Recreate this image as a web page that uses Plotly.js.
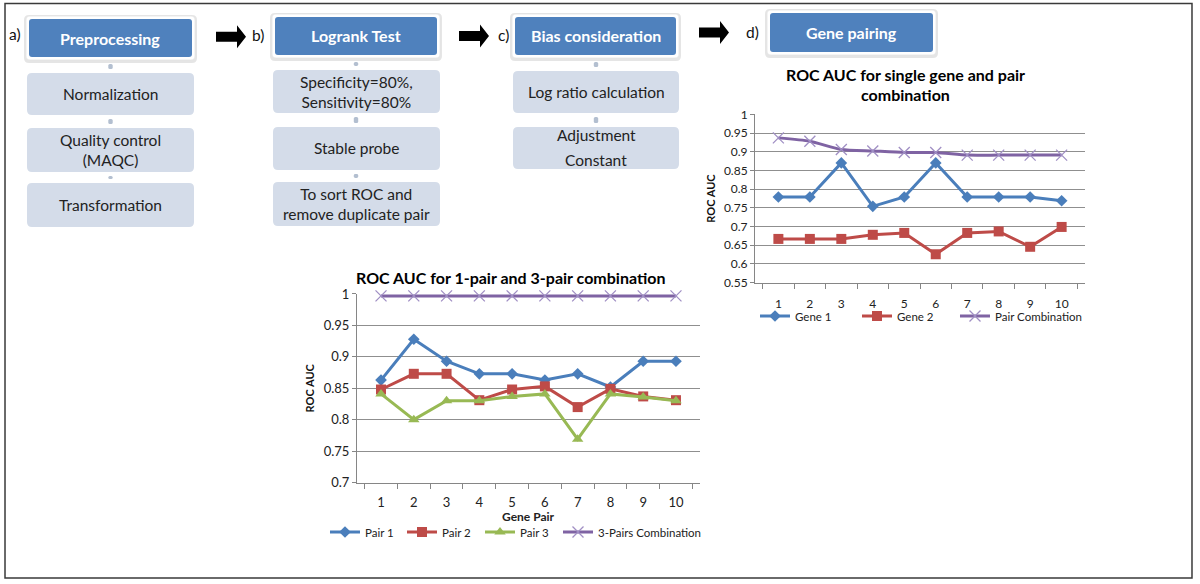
<!DOCTYPE html>
<html><head><meta charset="utf-8">
<script src="https://cdn.plot.ly/plotly-3.0.1.min.js"></script>
<style>html,body{margin:0;padding:0;background:#fff}</style>
</head><body><div id="chart" style="width:1200px;height:584px"></div>
<script>
// ---------- DATA ----------
const categories = ['1','2','3','4','5','6','7','8','9','10'];
// d) single gene vs pair combination
const gene1 = [0.779,0.779,0.870,0.754,0.779,0.870,0.779,0.779,0.779,0.769];
const gene2 = [0.667,0.667,0.667,0.678,0.683,0.626,0.683,0.687,0.646,0.699];
const pairCombination = [0.937,0.928,0.906,0.902,0.898,0.898,0.891,0.891,0.891,0.891];
// 1-pair vs 3-pair combination
const pair1 = [0.863,0.928,0.893,0.873,0.873,0.863,0.873,0.852,0.893,0.893];
const pair2 = [0.848,0.873,0.873,0.831,0.848,0.853,0.820,0.849,0.837,0.831];
const pair3 = [0.841,0.800,0.830,0.830,0.837,0.841,0.769,0.841,0.836,0.830];
const threePairsCombination = [0.997,0.997,0.997,0.997,0.997,0.997,0.997,0.997,0.997,0.997];
// flowchart text
const stepLabels = ['a)','b)','c)','d)'];
const stepHeaders = ['Preprocessing','Logrank Test','Bias consideration','Gene pairing'];
const preprocessingSteps = ['Normalization','Quality control<br>(MAQC)','Transformation'];
const logrankSteps = ['Specificity=80%,<br>Sensitivity=80%','Stable probe','To sort ROC and<br>remove duplicate pair'];
const biasSteps = ['Log ratio calculation',['Adjustment','Constant']];

// ---------- helpers ----------
const W = 1200, H = 584;
const X = p => +(p / W).toFixed(5);
const Y = p => +(1 - p / H).toFixed(5);
function rr(x0,y0,x1,y1,r){
  return `M${X(x0+r)},${Y(y0)} L${X(x1-r)},${Y(y0)} Q${X(x1)},${Y(y0)} ${X(x1)},${Y(y0+r)} `+
    `L${X(x1)},${Y(y1-r)} Q${X(x1)},${Y(y1)} ${X(x1-r)},${Y(y1)} L${X(x0+r)},${Y(y1)} `+
    `Q${X(x0)},${Y(y1)} ${X(x0)},${Y(y1-r)} L${X(x0)},${Y(y0+r)} Q${X(x0)},${Y(y0)} ${X(x0+r)},${Y(y0)} Z`;
}
const FONT = 'Lato, "Open Sans", sans-serif';
const shapes = [], annotations = [];
function pathShape(path, fill, line){ shapes.push({type:'path', xref:'paper', yref:'paper', path, fillcolor:fill, line: line || {width:0}}); }
function text(t, x, y, size, color, bold){
  annotations.push({text:t, xref:'paper', yref:'paper', x:X(x), y:Y(y), xanchor:'center', yanchor:'middle',
    showarrow:false, font:{family:FONT, size, color, weight: bold ? 'bold' : 'normal'}});
}
function header(label, box){
  const [x0,y0,x1,y1] = box;
  pathShape(rr(x0-5,y0-4,x1+5,y1+6,5), 'rgba(0,0,0,0.10)');
  pathShape(rr(x0-3,y0-3,x1+3,y1+3,4), '#ffffff', {color:'#e4e4e4', width:0.8});
  pathShape(rr(x0,y0,x1,y1,3), '#4f81bd');
  text(label, (x0+x1)/2, (y0+y1)/2, 16, '#ffffff', true);
}
function subBoxes(items, xs, ys, cx, headerBottom, spacedLines){
  let prev = headerBottom;
  items.forEach((t,i)=>{
    const [y0,y1] = ys[i];
    pathShape(rr(cx-2.2, prev+4, cx+2.2, y0-4, 1.5), '#b3bfd0');
    pathShape(rr(xs[0], y0, xs[1], y1, 5), '#d4dce9');
    if (Array.isArray(t)) {
      text(t[0], (xs[0]+xs[1])/2, spacedLines[0], 15.5, '#222');
      text(t[1], (xs[0]+xs[1])/2, spacedLines[1], 15.5, '#222');
    } else {
      text(t, (xs[0]+xs[1])/2, (y0+y1)/2, 15.5, '#222');
    }
    prev = y1;
  });
}
function arrow(x, cy){
  const L = 30, bh = 5, hh = 11.5, hl = 9;
  const p = `M${X(x)},${Y(cy-bh)} L${X(x+L-hl)},${Y(cy-bh)} L${X(x+L-hl)},${Y(cy-hh)} L${X(x+L)},${Y(cy)} `+
    `L${X(x+L-hl)},${Y(cy+hh)} L${X(x+L-hl)},${Y(cy+bh)} L${X(x)},${Y(cy+bh)} Z`;
  pathShape(p, '#000000');
}

// ---------- flowchart ----------
shapes.push({type:'rect', xref:'paper', yref:'paper', x0:X(5), y0:Y(3.5), x1:X(1192), y1:Y(578), line:{color:'#3a3a3a', width:1.5}, fillcolor:'rgba(0,0,0,0)'});
const headerBoxes = [[29,19,192,57],[275,17,437,55],[515,17,676,55],[770,13,933,52]];
stepHeaders.forEach((h,i)=>header(h, headerBoxes[i]));
const labelPos = [[15,34],[258,35],[503,35],[752,32]];
stepLabels.forEach((l,i)=>text(l, labelPos[i][0], labelPos[i][1], 15.5, '#111'));
subBoxes(preprocessingSteps, [27,194], [[73,115],[128,172],[183,227]], 110.5, 57+3);
subBoxes(logrankSteps, [273,440], [[70,113],[127,170],[182,226]], 356, 55+3);
subBoxes(biasSteps, [513,679], [[71,113],[127,169]], 596, 55+3, [135,160]);
arrow(216, 36.7); arrow(459, 36); arrow(699, 32.5);

// chart titles
text('ROC AUC for single gene and pair', 905, 75, 16, '#000', true);
text('combination', 905, 95, 16, '#000', true);
text('ROC AUC for 1-pair and 3-pair combination', 510, 277, 16, '#000', true);
text('Gene Pair', 529, 517, 12, '#222', true);

// ---------- traces ----------
const BLUE='#4a7ebb', RED='#be4b48', GREEN='#98b954', PURPLE='#7f63a3';
function series(name, y, color, symbol, size, xa, ya, leg, extra){
  return Object.assign({type:'scatter', mode:'lines+markers', name, x:categories, y,
    xaxis:xa, yaxis:ya, legend:leg, cliponaxis:false,
    line:{color, width:3}, marker:{symbol, size, color}}, extra||{});
}
const comboMarker = {symbol:'x-thin', size:11, color:'#a08fc4', line:{color:'#a08fc4', width:1.3}};
const data = [
  series('Pair 1', pair1, BLUE, 'diamond', 9, 'x', 'y', 'legend'),
  series('Pair 2', pair2, RED, 'square', 10, 'x', 'y', 'legend2'),
  series('Pair 3', pair3, GREEN, 'triangle-up', 10, 'x', 'y', 'legend3'),
  series('3-Pairs Combination', threePairsCombination, PURPLE, 'x-thin', 11, 'x', 'y', 'legend4', {marker:comboMarker}),
  series('Gene 1', gene1, BLUE, 'diamond', 9, 'x2', 'y2', 'legend5'),
  series('Gene 2', gene2, RED, 'square', 10, 'x2', 'y2', 'legend6'),
  series('Pair Combination', pairCombination, PURPLE, 'x-thin', 11, 'x2', 'y2', 'legend7', {marker:comboMarker, line:{color:PURPLE, width:3, shape:'spline', smoothing:0.6}})
];

const AX = '#868686', GRID = '#8f8f8f';
function xAxis(domain, anchor, fsize, standoff){
  return {domain, anchor, type:'category', tickson:'boundaries', ticks:'outside', ticklen:5, tickcolor:AX,
    showline:true, linecolor:AX, linewidth:1, showgrid:false, zeroline:false, fixedrange:true,
    tickfont:{family:FONT, size:fsize, color:'#222'}, ticklabelstandoff:standoff};
}
function yAxis(domain, anchor, range, fsize){
  return {domain, anchor, range, dtick:0.05, tick0:0, ticks:'outside', ticklen:4, tickcolor:AX,
    showline:true, linecolor:AX, linewidth:1, showgrid:true, gridcolor:GRID, gridwidth:1, zeroline:false, fixedrange:true,
    tickfont:{family:FONT, size:fsize, color:'#222'},
    title:{text:'ROC AUC', font:{family:FONT, size:11, color:'#111', weight:'bold'}, standoff:6}};
}
function leg(xpx, ypx){
  return {orientation:'h', x:X(xpx-5), y:Y(ypx), xanchor:'left', yanchor:'middle', bgcolor:'rgba(0,0,0,0)',
    font:{family:FONT, size:11.5, color:'#222'}, itemwidth:30};
}
const layout = {
  width:W, height:H, margin:{l:0,r:0,t:0,b:0}, paper_bgcolor:'#fff', plot_bgcolor:'#fff',
  showlegend:true,
  xaxis: xAxis([X(357), X(700)], 'y', 13, 8),
  yaxis: yAxis([Y(482.5), Y(294)], 'x', [0.7, 1], 13),
  xaxis2: xAxis([X(755), X(1085)], 'y2', 12, 10),
  yaxis2: yAxis([Y(282.7), Y(114.3)], 'x2', [0.55, 1], 12),
  legend: leg(330, 532), legend2: leg(407, 532), legend3: leg(485, 532), legend4: leg(563, 532),
  legend5: leg(760, 316), legend6: leg(862, 316), legend7: leg(960, 316),
  shapes, annotations
};
Plotly.newPlot('chart', data, layout, {staticPlot:true, displayModeBar:false});
</script>
</body></html>
